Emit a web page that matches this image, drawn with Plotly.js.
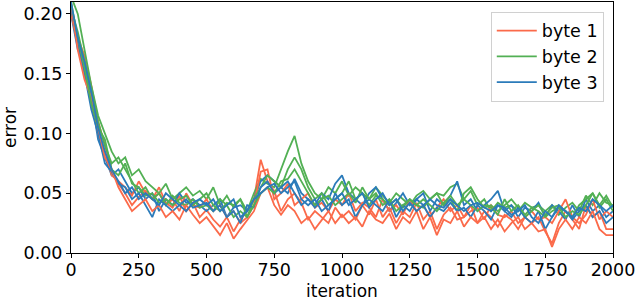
<!DOCTYPE html>
<html>
<head>
<meta charset="utf-8">
<script src="https://cdn.plot.ly/plotly-3.0.1.min.js"></script>
<style>html,body{margin:0;padding:0;background:#fff;}#chart{width:638px;height:300px;}</style>
</head>
<body>
<div id="chart"></div>
<script>
// iterations sampled every 25 steps
const iterations = [];
for (let k = 0; k <= 80; k++) iterations.push(k * 25);

const seriesNames = ["byte 1", "byte 2", "byte 3"];
const seriesColors = ["#fb6a4a", "#52b054", "#2b7bba"];
const xTitle = "iteration";
const yTitle = "error";

const byte1_run1 = [0.205,0.18,0.165,0.14,0.11,0.09,0.07,0.058,0.05,0.04,
0.047,0.052,0.045,0.055,0.042,0.038,0.048,0.035,0.042,0.03,
0.036,0.028,0.022,0.03,0.018,0.028,0.035,0.045,0.078,0.06,
0.052,0.035,0.045,0.05,0.042,0.028,0.035,0.03,0.025,0.038,
0.03,0.035,0.028,0.04,0.032,0.045,0.03,0.038,0.025,0.035,
0.03,0.042,0.028,0.035,0.02,0.032,0.038,0.028,0.03,0.04,
0.025,0.035,0.03,0.022,0.032,0.028,0.02,0.03,0.025,0.03,
0.018,0.008,0.025,0.035,0.028,0.02,0.04,0.03,0.035,0.02,
0.02];
const byte1_run2 = [0.20,0.175,0.15,0.125,0.1,0.085,0.065,0.06,0.055,0.048,
0.06,0.05,0.045,0.05,0.04,0.045,0.035,0.05,0.04,0.038,
0.045,0.035,0.04,0.03,0.035,0.025,0.03,0.04,0.068,0.07,
0.045,0.05,0.058,0.04,0.045,0.05,0.038,0.042,0.035,0.045,
0.04,0.05,0.035,0.042,0.038,0.03,0.045,0.035,0.04,0.032,
0.045,0.035,0.04,0.03,0.038,0.045,0.035,0.04,0.03,0.035,
0.038,0.028,0.04,0.032,0.03,0.035,0.025,0.03,0.035,0.028,
0.03,0.025,0.035,0.045,0.03,0.025,0.032,0.045,0.028,0.035,
0.03];
const byte1_run3 = [0.21,0.17,0.145,0.13,0.105,0.08,0.07,0.055,0.045,0.035,
0.04,0.045,0.035,0.04,0.03,0.035,0.028,0.04,0.032,0.025,
0.03,0.022,0.015,0.025,0.012,0.02,0.028,0.035,0.05,0.055,
0.04,0.032,0.04,0.035,0.025,0.03,0.02,0.028,0.035,0.025,
0.032,0.025,0.03,0.022,0.035,0.028,0.025,0.033,0.02,0.03,
0.025,0.035,0.02,0.03,0.015,0.028,0.025,0.035,0.022,0.03,
0.025,0.03,0.02,0.028,0.018,0.025,0.03,0.02,0.025,0.018,
0.02,0.005,0.02,0.028,0.02,0.03,0.025,0.035,0.02,0.015,
0.015];

const byte2_run1 = [0.215,0.2,0.17,0.14,0.115,0.1,0.085,0.075,0.08,0.065,
0.07,0.06,0.055,0.05,0.058,0.045,0.05,0.055,0.048,0.052,
0.045,0.055,0.04,0.048,0.038,0.045,0.035,0.05,0.062,0.058,
0.055,0.07,0.085,0.098,0.075,0.06,0.05,0.045,0.055,0.05,
0.06,0.048,0.055,0.05,0.045,0.055,0.048,0.042,0.05,0.045,
0.04,0.048,0.052,0.045,0.05,0.048,0.055,0.058,0.045,0.052,
0.04,0.045,0.035,0.042,0.038,0.04,0.035,0.042,0.038,0.04,
0.035,0.04,0.032,0.038,0.042,0.035,0.048,0.04,0.05,0.042,
0.04];
const byte2_run2 = [0.205,0.185,0.16,0.135,0.11,0.09,0.075,0.08,0.07,0.06,
0.05,0.055,0.045,0.05,0.04,0.048,0.042,0.04,0.045,0.038,
0.04,0.035,0.045,0.04,0.03,0.035,0.03,0.045,0.055,0.065,
0.06,0.055,0.07,0.08,0.07,0.055,0.045,0.05,0.04,0.045,
0.05,0.06,0.045,0.05,0.04,0.048,0.045,0.04,0.045,0.038,
0.045,0.04,0.038,0.045,0.05,0.04,0.045,0.035,0.05,0.055,
0.045,0.038,0.04,0.035,0.04,0.045,0.038,0.03,0.035,0.04,
0.032,0.038,0.04,0.035,0.03,0.04,0.045,0.05,0.038,0.045,
0.035];
const byte2_run3 = [0.21,0.18,0.155,0.125,0.105,0.095,0.07,0.065,0.075,0.058,
0.055,0.048,0.05,0.042,0.045,0.04,0.045,0.048,0.04,0.045,
0.05,0.04,0.035,0.042,0.04,0.045,0.03,0.04,0.05,0.055,
0.05,0.06,0.062,0.07,0.06,0.05,0.04,0.045,0.048,0.04,
0.045,0.05,0.042,0.055,0.045,0.05,0.04,0.045,0.035,0.04,
0.045,0.04,0.045,0.04,0.035,0.042,0.048,0.04,0.045,0.04,
0.035,0.04,0.038,0.032,0.045,0.035,0.04,0.032,0.038,0.035,
0.03,0.035,0.038,0.03,0.035,0.032,0.04,0.05,0.04,0.048,
0.038];

const byte3_run1 = [0.2,0.17,0.16,0.13,0.095,0.08,0.065,0.07,0.06,0.05,
0.055,0.045,0.05,0.035,0.045,0.04,0.05,0.042,0.045,0.04,
0.035,0.04,0.045,0.03,0.038,0.04,0.035,0.045,0.06,0.065,
0.06,0.055,0.05,0.062,0.05,0.045,0.04,0.05,0.045,0.058,
0.065,0.05,0.045,0.04,0.05,0.055,0.045,0.035,0.042,0.05,
0.04,0.045,0.05,0.035,0.045,0.04,0.048,0.06,0.04,0.045,
0.035,0.04,0.045,0.052,0.035,0.04,0.03,0.038,0.035,0.042,
0.03,0.04,0.035,0.028,0.04,0.03,0.045,0.035,0.04,0.03,
0.035];
const byte3_run2 = [0.205,0.175,0.15,0.12,0.1,0.075,0.068,0.058,0.055,0.045,
0.05,0.04,0.03,0.045,0.04,0.035,0.04,0.045,0.038,0.04,
0.042,0.035,0.04,0.03,0.035,0.025,0.04,0.038,0.055,0.06,
0.05,0.055,0.06,0.05,0.04,0.045,0.038,0.045,0.035,0.05,
0.04,0.045,0.03,0.04,0.045,0.04,0.035,0.045,0.03,0.04,
0.035,0.045,0.04,0.03,0.038,0.035,0.042,0.035,0.038,0.03,
0.04,0.035,0.028,0.04,0.035,0.03,0.038,0.03,0.025,0.035,
0.02,0.03,0.038,0.035,0.028,0.035,0.04,0.03,0.035,0.025,
0.03];
const byte3_run3 = [0.21,0.18,0.16,0.135,0.105,0.085,0.07,0.06,0.05,0.055,
0.045,0.05,0.045,0.04,0.05,0.045,0.04,0.035,0.042,0.045,
0.04,0.045,0.035,0.04,0.045,0.03,0.035,0.045,0.05,0.055,
0.058,0.05,0.055,0.06,0.045,0.04,0.045,0.035,0.04,0.045,
0.05,0.04,0.045,0.05,0.038,0.045,0.05,0.04,0.045,0.035,
0.042,0.035,0.04,0.045,0.04,0.038,0.045,0.04,0.035,0.04,
0.042,0.038,0.035,0.04,0.038,0.032,0.035,0.04,0.03,0.025,
0.035,0.03,0.04,0.035,0.03,0.038,0.035,0.045,0.04,0.035,
0.04];

const runs = [
  [byte1_run1, byte1_run2, byte1_run3],
  [byte2_run1, byte2_run2, byte2_run3],
  [byte3_run1, byte3_run2, byte3_run3]
];

const traces = [];
for (let r = 0; r < 3; r++) {
  for (let s = 0; s < 3; s++) {
    traces.push({
      type: "scatter", mode: "lines",
      x: iterations, y: runs[s][r],
      name: seriesNames[s], legendgroup: seriesNames[s],
      showlegend: r === 0,
      line: {color: seriesColors[s], width: 1.8}
    });
  }
}

const font = {family: "DejaVu Sans, sans-serif", size: 17.5, color: "#000"};
const titleFont = {family: "DejaVu Sans, sans-serif", size: 17, color: "#000"};
const layout = {
  width: 638, height: 300,
  margin: {l: 71, r: 25, t: 2, b: 47},
  paper_bgcolor: "#fff", plot_bgcolor: "#fff",
  font: font,
  showlegend: true,
  legend: {x: 0.983, xanchor: "right", y: 0.961, yanchor: "top",
           bgcolor: "rgba(255,255,255,0.8)", bordercolor: "#d0d0d0", borderwidth: 1,
           font: font, traceorder: "normal", itemwidth: 40},
  xaxis: {range: [0, 2000], tickvals: [0,250,500,750,1000,1250,1500,1750,2000],
          ticks: "outside", ticklen: 4, tickwidth: 1, tickcolor: "#000",
          ticklabelstandoff: -3,
          showline: true, linecolor: "#000", linewidth: 1, mirror: true,
          showgrid: false, zeroline: false},
  yaxis: {range: [0, 0.21], tickvals: [0,0.05,0.1,0.15,0.2], tickformat: ".2f",
          ticks: "outside", ticklen: 4, tickwidth: 1, tickcolor: "#000",
          showline: true, linecolor: "#000", linewidth: 1, mirror: true,
          showgrid: false, zeroline: false,
          title: {text: yTitle, font: titleFont, standoff: 4}},
  annotations: [{text: xTitle, xref: "paper", yref: "paper", x: 0.5, y: 0,
                 xanchor: "center", yanchor: "middle", yshift: -37.5,
                 showarrow: false, font: titleFont}]
};
Plotly.newPlot("chart", traces, layout, {staticPlot: true, displayModeBar: false});
</script>
</body>
</html>
